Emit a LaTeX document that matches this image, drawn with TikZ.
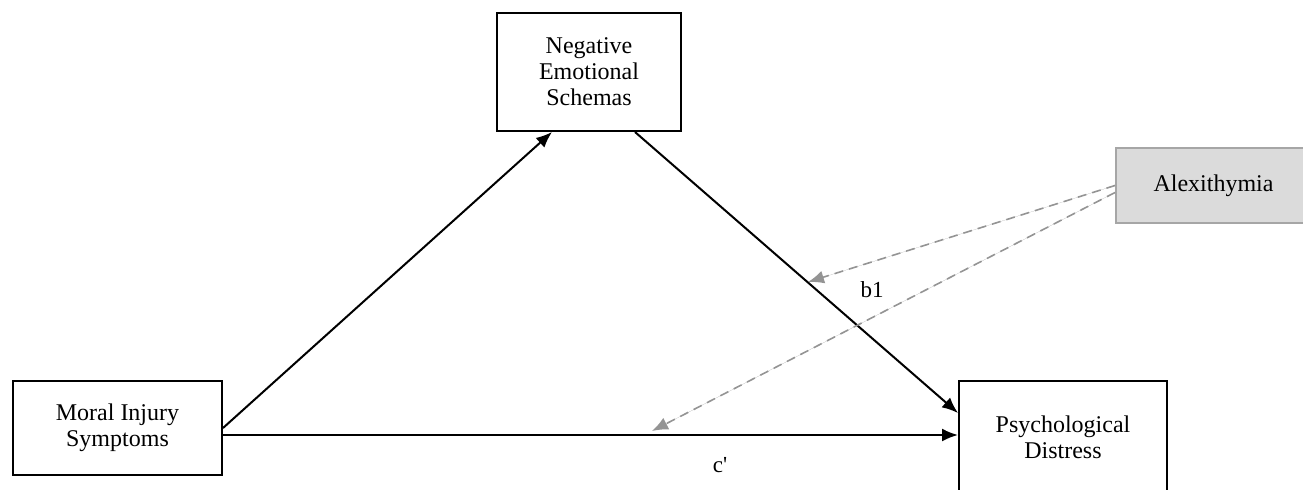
\documentclass[tikz,border=0pt]{standalone}
\usepackage{fontspec}
\setmainfont{Liberation Serif}
\usetikzlibrary{arrows.meta}
\begin{document}
\begin{tikzpicture}[x=0.5pt, y=-0.5pt, line width=1pt,
  font=\fontsize{12}{13}\selectfont,
  var/.style={draw, line width=1pt, align=center, inner sep=0pt},
  modbx/.style={draw=black!35, fill=black!14, line width=1pt, inner sep=0pt},
  path/.style={line width=1pt, -{Latex[length=8pt,width=6.5pt]}},
  mod/.style={draw=black!42, dash pattern=on 4.5pt off 3pt, line width=0.8pt,
    -{Latex[length=8pt,width=6.5pt]}, fill=black!55},
  lbl/.style={inner sep=0pt, font=\fontsize{11.5}{12}\selectfont}]
  \clip (0,0) rectangle (1303,489);
  % boxes (pixel coordinates of the layout, y downwards)
  \node[var, minimum width=92pt, minimum height=59pt] (nes) at (589,72)
    {Negative\\Emotional\\Schemas};
  \node[var, minimum width=104.5pt, minimum height=47pt] (mi) at (117.5,428)
    {Moral Injury\\Symptoms};
  \node[var, minimum width=104pt, minimum height=56pt] (pd) at (1063,437)
    {Psychological\\Distress};
  \node[modbx, minimum width=97.5pt, minimum height=37.5pt] (alex) at (1213.5,185.5)
    {Alexithymia};
  % paths a, b1, c'
  \draw[path] (mi.east) -- ([xshift=-18.5pt]nes.south);
  \draw[path] ([xshift=23pt]nes.south) -- ([yshift=12pt]pd.west);
  \draw[path] ([yshift=-3.5pt]mi.east) -- ([yshift=-3.5pt]mi.east -| pd.west);
  % moderation by alexithymia
  \coordinate (m1) at (808,282);
  \coordinate (m2) at (652,431);
  \draw[mod] (alex.west) -- (m1);
  \draw[mod] ([yshift=-3.5pt]alex.west) -- (m2);
  \node[lbl] (b1) at (872,290) {b1};
  \node[lbl] (cp) at (720,465) {c\textquotesingle};
\end{tikzpicture}
\end{document}
